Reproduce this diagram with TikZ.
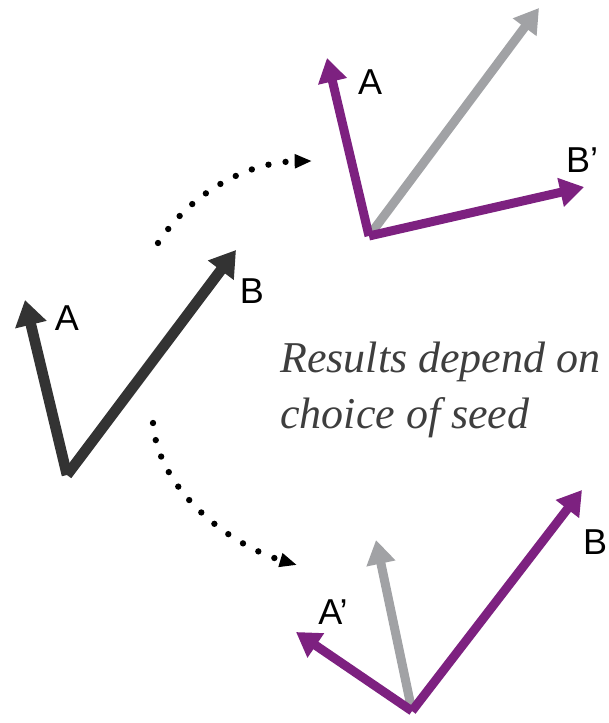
\documentclass[tikz,border=0pt]{standalone}
\usepackage{fontspec}
\setmainfont{Liberation Serif}
\setsansfont{Liberation Sans}
\usepackage{xcolor}
\usepackage{tikz}
\usetikzlibrary{positioning, arrows.meta, calc}

\definecolor{vecdark}{RGB}{51,51,51}
\definecolor{vecpurple}{RGB}{125,33,128}
\definecolor{vecgray}{RGB}{161,162,165}
\definecolor{notegray}{RGB}{62,62,62}

\tikzset{
  darkvec/.style={draw=vecdark, line width=8pt, -{Triangle[length=19pt, width=23pt]}},
  purplevec/.style={draw=vecpurple, line width=6.75pt, -{Triangle[length=18pt, width=21pt]}},
  grayvec/.style={draw=vecgray, line width=6.75pt, -{Triangle[length=18pt, width=21pt]}},
  seedarrow/.style={draw=black, line width=4.75pt, line cap=round, dash pattern=on 0pt off 13pt, -{Triangle[length=13pt, width=10pt]}},
  lbl/.style={inner sep=0pt, font=\sffamily\fontsize{27}{30}\selectfont}
}

\begin{document}
\begin{tikzpicture}[x=0.75pt, y=-0.75pt]
    \useasboundingbox (0,0) rectangle (609,723);

    \coordinate (o1) at (67,475);
    \coordinate (a1) at (25,300);
    \coordinate (b1) at (236,250);
    \draw[darkvec] (o1) -- (a1);
    \draw[darkvec] (o1) -- (b1);
    \node[lbl] (la1) at (67,318) {A};
    \node[lbl] (lb1) at (252,291) {B};

    \coordinate (o2) at (369,236);
    \coordinate (a2) at (327,58);
    \coordinate (g2) at (539,8);
    \coordinate (b2) at (584,187);
    \draw[grayvec] (o2) -- (g2);
    \draw[purplevec] (o2) -- (a2);
    \draw[purplevec] (o2) -- (b2);
    \node[lbl] (la2) at (370,82) {A};
    \node[lbl] (lb2) at (582,160) {B’};

    \coordinate (o3) at (412,711);
    \coordinate (g3) at (376,540);
    \coordinate (a3) at (296,632);
    \coordinate (b3) at (582,490);
    \draw[grayvec] (o3) -- (g3);
    \draw[purplevec] (o3) -- (a3);
    \draw[purplevec] (o3) -- (b3);
    \node[lbl] (la3) at (333,612) {A’};
    \node[lbl] (lb3) at (595,542) {B};

    \coordinate (s1) at (158,243);
    \coordinate (e1) at (312,161);
    \coordinate (s2) at (153,423);
    \coordinate (e2) at (297,565);
    \draw[seedarrow] (s1) .. controls (193,190) and (250,162) .. (e1);
    \draw[seedarrow] (s2) .. controls (158,490) and (230,545) .. (e2);

    \node[anchor=base west, inner sep=0pt, align=left, text=notegray,
          font=\itshape\fontsize{33}{42}\selectfont] (note) at (280,428)
          {Results depend on\\choice of seed};
\end{tikzpicture}
\end{document}
